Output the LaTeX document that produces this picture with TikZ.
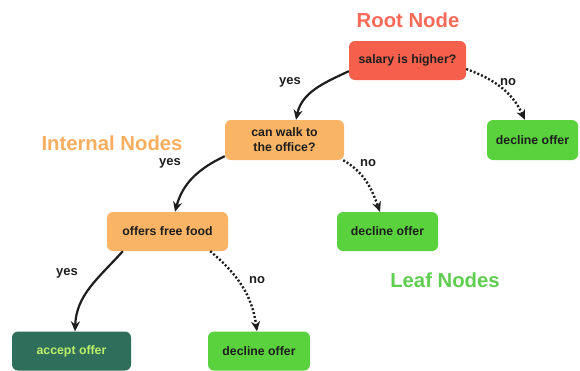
\documentclass[tikz,border=0pt]{standalone}
\usepackage{fontspec}
\setmainfont{Liberation Sans}
\usetikzlibrary{arrows.meta}
\definecolor{rootc}{HTML}{F5604D}
\definecolor{rootlab}{HTML}{F86A58}
\definecolor{intc}{HTML}{FAB466}
\definecolor{intlab}{HTML}{F8AE5E}
\definecolor{leafc}{HTML}{5AD23E}
\definecolor{leaflab}{HTML}{5FCE50}
\definecolor{accc}{HTML}{2F6E5B}
\definecolor{acctext}{HTML}{BDF06A}
\definecolor{txt}{HTML}{1E1E1E}
\tikzset{
  box/.style={rounded corners=6pt, inner sep=0pt, align=center, text=txt,
    font=\fontsize{12.3}{15}\selectfont\bfseries},
  rootbox/.style={box, fill=rootc},
  intbox/.style={box, fill=intc},
  leafbox/.style={box, fill=leafc},
  accbox/.style={box, fill=accc, text=acctext},
  yesarrow/.style={draw=txt, line width=2.2pt, -{Stealth[length=10pt,width=9pt]}},
  noarrow/.style={draw=txt, line width=2.4pt, dash pattern=on 2pt off 2pt, -{Stealth[length=10pt,width=9pt]}},
  edgelab/.style={text=txt, font=\fontsize{13}{15}\selectfont\bfseries, inner sep=0pt},
  grouplab/.style={font=\fontsize{20.3}{23}\selectfont\bfseries, inner sep=0pt}
}
\begin{document}
\begin{tikzpicture}[x=1pt,y=-1pt]
\useasboundingbox[fill=white] (0,0) rectangle (580,370);
\node[rootbox, minimum width=117pt, minimum height=39pt] (root) at (407.5,60.5) {salary is higher?};
\node[leafbox, minimum width=91pt, minimum height=40pt] (dec1) at (532.5,140) {decline offer};
\node[intbox, minimum width=119pt, minimum height=40pt] (walk) at (284.5,140) {can walk to\\the office?};
\node[intbox, minimum width=121pt, minimum height=39pt] (food) at (167.5,231.5) {offers free food};
\node[leafbox, minimum width=101pt, minimum height=39pt] (dec2) at (387.5,231.5) {decline offer};
\node[accbox, minimum width=119pt, minimum height=39pt] (acc) at (71.5,351) {accept offer};
\node[leafbox, minimum width=102pt, minimum height=39pt] (dec3) at (259,351) {decline offer};

\node[grouplab, text=rootlab] (lroot) at (408,20) {Root Node};
\node[grouplab, text=intlab] (lint) at (112,143) {Internal Nodes};
\node[grouplab, text=leaflab] (lleaf) at (445,280) {Leaf Nodes};

\draw[yesarrow] ([yshift=9pt]root.south west) to[out=205,in=78] ([xshift=11.5pt]walk.north);
\draw[noarrow] ([yshift=-8.5pt]root.east) to[out=-20,in=115] ([xshift=-7.5pt]dec1.north);
\draw[yesarrow] ([yshift=4pt]walk.south west) to[out=205,in=75] ([xshift=7.5pt]food.north);
\draw[noarrow] ([xshift=-1pt]walk.south east) to[out=-30,in=110] ([xshift=-7.5pt]dec2.north);
\draw[yesarrow] ([xshift=16pt]food.south west) to[out=228,in=88] ([xshift=3.5pt]acc.north);
\draw[noarrow] ([xshift=-18pt]food.south east) to[out=-40,in=98] ([xshift=-2pt]dec3.north);

\node[edgelab] (y1) at (290,82) {yes};
\node[edgelab] (n1) at (508,82) {no};
\node[edgelab] (y2) at (170,163) {yes};
\node[edgelab] (n2) at (368,163) {no};
\node[edgelab] (y3) at (67,273) {yes};
\node[edgelab] (n3) at (257,280) {no};
\end{tikzpicture}
\end{document}
